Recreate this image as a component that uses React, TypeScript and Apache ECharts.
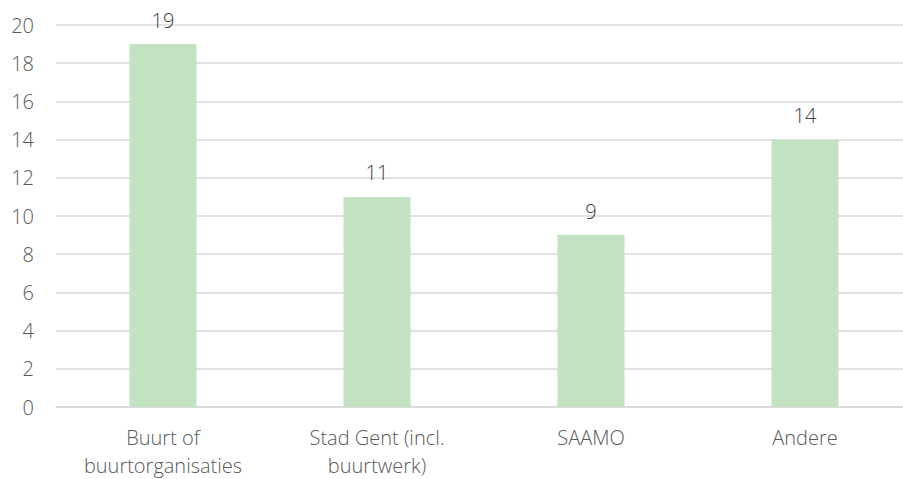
import React, { useEffect, useRef } from "react";
import * as echarts from "echarts";

const categories = ["Buurt of\nbuurtorganisaties", "Stad Gent (incl.\nbuurtwerk)", "SAAMO", "Andere"];
const values = [19, 11, 9, 14];
const yTicks = { min: 0, max: 20, interval: 2 };

export default function App() {
  const ref = useRef<HTMLDivElement>(null);
  useEffect(() => {
    if (!ref.current) return;
    const chart = echarts.init(ref.current, undefined, { renderer: "svg" });
    const font = "'Open Sans', sans-serif";
    chart.setOption({
      animation: false,
      grid: { left: 56, width: 856, top: 25, height: 382, containLabel: false, outerBoundsMode: "none" },
      xAxis: {
        type: "category",
        data: categories,
        axisLine: { lineStyle: { color: "#d9d9d9", width: 1.5 } },
        axisTick: { show: false },
        axisLabel: {
          color: "#595959",
          fontFamily: font,
          fontSize: 20,
          fontWeight: 300,
          lineHeight: 28,
          margin: 16,
          interval: 0,
        },
      },
      yAxis: {
        type: "value",
        min: yTicks.min,
        max: yTicks.max,
        interval: yTicks.interval,
        axisLine: { show: false },
        axisTick: { show: false },
        splitLine: { lineStyle: { color: "#d9d9d9", width: 1.5 } },
        axisLabel: {
          color: "#595959",
          fontFamily: font,
          fontSize: 20,
          fontWeight: 300,
          margin: 22,
        },
      },
      series: [
        {
          type: "bar",
          data: values,
          barWidth: "31.3%",
          itemStyle: { color: "#c3e2c2" },
          label: {
            show: true,
            position: "top",
            distance: 14,
            color: "#404040",
            fontFamily: font,
            fontSize: 20,
            fontWeight: 300,
          },
        },
      ],
    });
    return () => chart.dispose();
  }, []);
  return <div ref={ref} style={{ width: 903, height: 479, position: "absolute", left: 0, top: 0 }} />;
}
